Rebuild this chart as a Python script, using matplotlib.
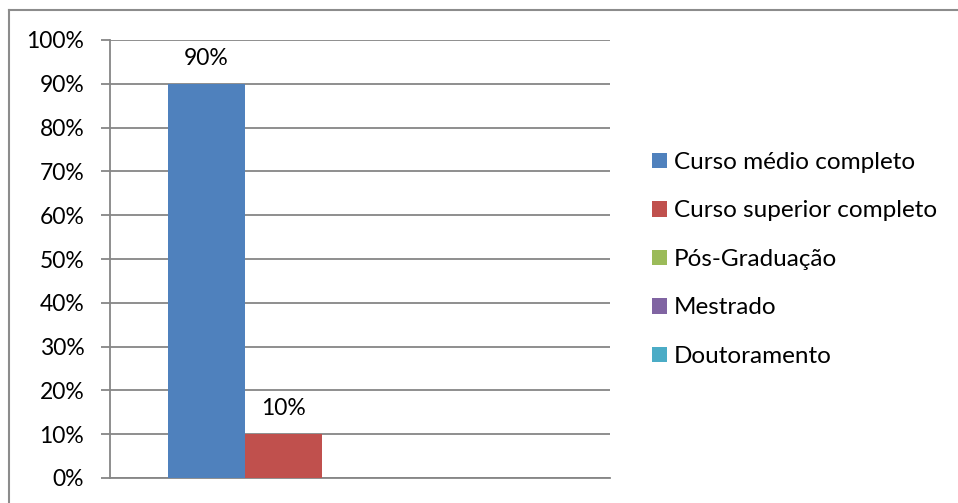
import matplotlib
matplotlib.use("Agg")
import matplotlib.pyplot as plt
from matplotlib.lines import Line2D
from matplotlib.patches import Patch
from matplotlib.ticker import PercentFormatter

# Nível de escolaridade (percentual de respondentes)
series = ["Curso médio completo", "Curso superior completo", "Pós-Graduação",
          "Mestrado", "Doutoramento"]
values = [90, 10, 0, 0, 0]
colors = ["#4F81BD", "#C0504D", "#9BBB59", "#8064A2", "#4BACC6"]
yticks = [0, 10, 20, 30, 40, 50, 60, 70, 80, 90, 100]

plt.rcParams["font.family"] = ["Lato", "DejaVu Sans"]
W, H = 958, 503
fig = plt.figure(figsize=(W / 100, H / 100), dpi=100)
ax = fig.add_axes([110 / W, 1 - 478 / H, 500 / W, (478 - 40) / H])

grid = "#868686"
width = 0.1535
center = 0.5
for i, (name, v, c) in enumerate(zip(series, values, colors)):
    x = center + (i - (len(series) - 1) / 2) * width
    ax.bar(x, v, width=width, color=c, zorder=3, label=name)
    if v > 0:
        ax.annotate(f"{v}%", (x, v), xytext=(0, 11), textcoords="offset points",
                    ha="center", va="bottom", fontsize=16.5, color="#000000")

ax.set_xlim(0, 1)
ax.set_ylim(0, 100)
ax.set_yticks(yticks)
ax.yaxis.set_major_formatter(PercentFormatter(decimals=0))
ax.set_xticks([])
ax.grid(axis="y", color=grid, linewidth=1.3, zorder=0)
for s in ["top", "right"]:
    ax.spines[s].set_visible(False)
for s in ["left", "bottom"]:
    ax.spines[s].set_color(grid)
    ax.spines[s].set_linewidth(1.3)
ax.tick_params(axis="y", length=6.5, width=1.3, color=grid, labelsize=16.5,
               pad=12, labelcolor="#000000")

# Moldura externa do gráfico
fc = "#8C8C8C"
fig.add_artist(Line2D([8.5 / W, 8.5 / W], [0, 1 - 9.5 / H], color=fc, lw=1.5,
                      transform=fig.transFigure))
fig.add_artist(Line2D([8.5 / W, 1], [1 - 9.5 / H, 1 - 9.5 / H], color=fc, lw=1.5,
                      transform=fig.transFigure))

handles = [Patch(facecolor=c, edgecolor="none") for c in colors]
fig.legend(handles, series, loc="upper left", bbox_to_anchor=(652 / W, 1 - 152 / H),
           frameon=False, fontsize=17.5, handlelength=0.6, handleheight=0.6,
           handletextpad=0.3, labelspacing=1.13, borderaxespad=0, borderpad=0)

fig.savefig("out.png", dpi=100)
